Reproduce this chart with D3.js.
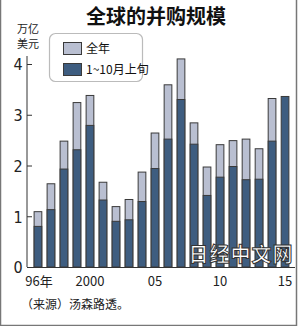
<!DOCTYPE html>
<html><head><meta charset="utf-8">
<script src="https://cdnjs.cloudflare.com/ajax/libs/d3/7.8.5/d3.min.js"></script>
<style>body{margin:0;background:#fff}svg{display:block}</style>
</head><body>
<script>
const years = [1996,1997,1998,1999,2000,2001,2002,2003,2004,2005,2006,2007,2008,2009,2010,2011,2012,2013,2014,2015];
const fullYear = [1.10,1.65,2.49,3.25,3.39,1.68,1.20,1.34,1.88,2.65,3.60,4.11,2.85,1.98,2.42,2.50,2.53,2.34,3.33,null];
const janToOct = [0.81,1.14,1.94,2.32,2.80,1.33,0.91,0.94,1.30,1.95,2.53,3.31,2.43,1.42,1.78,1.99,1.73,1.74,2.49,3.37];
const yTicks = [0,1,2,3,4];
const xTickLabels = {1996:"96年",2000:"2000",2005:"05",2010:"10",2015:"15"};
const seriesNames = ["全年","1~10月上旬"];

const W=300,H=326;
const svg=d3.select("body").append("svg").attr("width",W).attr("height",H)
  .style("font-family","'Noto Sans CJK SC','Noto Sans',sans-serif");
const light="#b9bfd1", dark="#3e5d80", edge="#3a3a3a";

// frame
svg.append("path").attr("d",`M0.5,0 V${H-0.5} H${W-3.5} V0`).attr("fill","none").attr("stroke","#777").attr("stroke-width",1.5);

const x=d3.scaleBand().domain(years).range([31,292]).paddingInner(0.33).paddingOuter(0.2);
const y=d3.scaleLinear().domain([0,4]).range([267,64]);

svg.append("text").attr("x",156).attr("y",24).attr("text-anchor","middle")
  .attr("font-size",20).attr("font-weight","bold").attr("fill","#111").text("全球的并购规模");
svg.append("text").attr("x",28).attr("y",33).attr("text-anchor","middle").attr("font-size",11).attr("fill","#222").text("万亿");
svg.append("text").attr("x",28).attr("y",48).attr("text-anchor","middle").attr("font-size",11).attr("fill","#222").text("美元");

// bars
const g=svg.append("g");
g.selectAll("rect.full").data(years.map((yr,i)=>({yr,v:fullYear[i]})).filter(d=>d.v!=null))
 .join("rect").attr("x",d=>x(d.yr)+0.5).attr("width",x.bandwidth()-1)
 .attr("y",d=>y(d.v)+0.5).attr("height",d=>y(0)-y(d.v)-0.5)
 .attr("fill",light).attr("stroke",edge).attr("stroke-width",1);
g.selectAll("rect.part").data(years.map((yr,i)=>({yr,v:janToOct[i]})))
 .join("rect").attr("x",d=>x(d.yr)+0.5).attr("width",x.bandwidth()-1)
 .attr("y",d=>y(d.v)+0.5).attr("height",d=>y(0)-y(d.v)-0.5)
 .attr("fill",dark).attr("stroke",edge).attr("stroke-width",1);

// y axis
const ya=svg.append("g").attr("transform","translate(27,0)")
 .call(d3.axisRight(y).tickValues(yTicks).tickSize(5).tickFormat(d3.format("d")));
ya.select(".domain").attr("stroke","#333").attr("d",`M0,${y(0)}V${y(4)-8}`);
ya.selectAll(".tick line").attr("stroke","#333");
ya.selectAll(".tick text").attr("x",-9).attr("dy","0.36em").attr("text-anchor","middle")
 .attr("font-size",16).attr("fill","#222").attr("font-family","'Liberation Sans Narrow','DejaVu Sans Condensed',sans-serif");

// x axis
svg.append("line").attr("x1",27).attr("x2",295).attr("y1",y(0)+0.5).attr("y2",y(0)+0.5).attr("stroke","#333");
svg.append("g").selectAll("text").data(years.filter(d=>xTickLabels[d]))
 .join("text").attr("x",d=>x(d)+x.bandwidth()/2 + (d===1996?1:0)).attr("y",286).attr("text-anchor","middle")
 .attr("font-size",13).attr("fill","#222").text(d=>xTickLabels[d]);

svg.append("text").attr("x",21).attr("y",309).attr("font-size",12).attr("fill","#222").text("（来源）汤森路透。");

// legend
svg.append("rect").attr("x",49.5).attr("y",33.5).attr("width",93).attr("height",48).attr("rx",6)
 .attr("fill","#fff").attr("stroke","#bbb").attr("stroke-width",1.2);
const lg=[{n:seriesNames[0],c:light,yy:42},{n:seriesNames[1],c:dark,yy:63}];
lg.forEach(d=>{
  svg.append("rect").attr("x",63.5).attr("y",d.yy+0.5).attr("width",18).attr("height",12).attr("fill",d.c).attr("stroke",edge);
  svg.append("text").attr("x",86).attr("y",d.yy+11).attr("font-size",12).attr("fill","#111").text(d.n);
});

// watermark
svg.append("text").attr("x",241).attr("y",262).attr("text-anchor","middle").attr("font-size",20).attr("font-weight","bold")
 .attr("fill","#fff").attr("stroke","#333").attr("stroke-width",1).attr("letter-spacing",1).text("日经中文网");
</script>
</body></html>
